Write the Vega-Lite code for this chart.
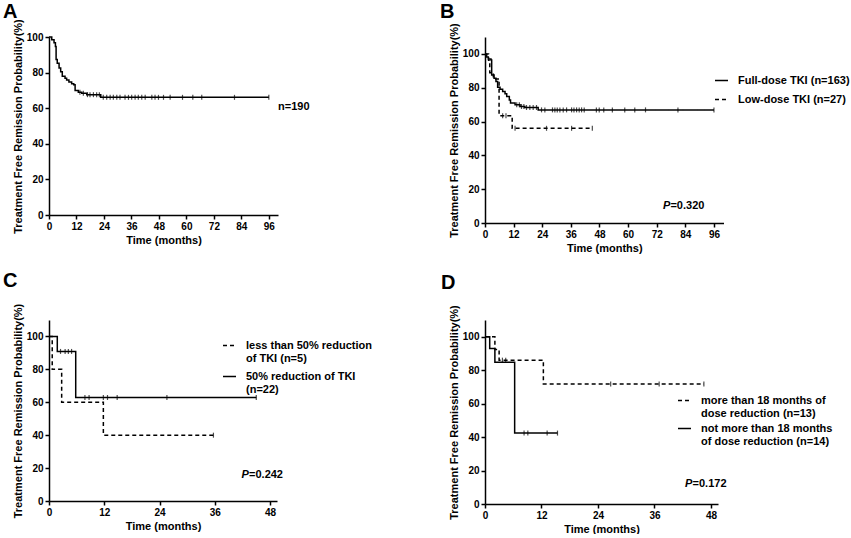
{
  "$schema": "https://vega.github.io/schema/vega-lite/v6.json",
  "padding": {"left": 3, "top": 1, "right": 0, "bottom": 0},
  "background": "white",
  "columns": 2,
  "bounds": "flush",
  "align": "each",
  "spacing": {"row": 97, "column": 207},
  "resolve": {"scale": {"strokeDash": "independent", "x": "independent", "y": "independent"}, "legend": {"strokeDash": "independent"}},
  "config": {
    "font": "Liberation Sans",
    "view": {"stroke": null},
    "axis": {
      "grid": false,
      "domainColor": "black",
      "domainWidth": 1.5,
      "tickColor": "black",
      "tickWidth": 1.5,
      "tickSize": 4,
      "labelColor": "black",
      "labelFont": "Liberation Sans",
      "labelFontSize": 10,
      "labelFontWeight": "bold",
      "labelPadding": 2,
      "labelFlush": false,
      "titleColor": "black",
      "titleFont": "Liberation Sans",
      "titleFontSize": 11,
      "titleFontWeight": "bold",
      "titlePadding": 3
    },
    "legend": {
      "labelFont": "Liberation Sans",
      "labelFontSize": 11,
      "labelFontWeight": "bold",
      "labelColor": "black",
      "labelLimit": 0,
      "labelOffset": 9,
      "symbolType": "stroke",
      "symbolStrokeColor": "black",
      "symbolStrokeWidth": 1.5,
      "symbolSize": 169,
      "padding": 0
    },
    "title": {"fontSize": 20, "fontWeight": "bold", "font": "Liberation Sans", "anchor": "start", "frame": "group", "color": "black"},
    "text": {"font": "Liberation Sans", "fontSize": 11, "fontWeight": "bold", "color": "black", "align": "left", "baseline": "middle"}
  },
  "datasets": {
    "a_curve": [
      {"t": 0, "s": 100}, {"t": 1.2, "s": 98.4}, {"t": 2.2, "s": 96.8}, {"t": 2.8, "s": 94.7},
      {"t": 3.1, "s": 87.4}, {"t": 3.6, "s": 85.3}, {"t": 4.4, "s": 82.6}, {"t": 5.1, "s": 80.5},
      {"t": 5.8, "s": 77.9}, {"t": 7.0, "s": 76.8}, {"t": 7.7, "s": 75.8}, {"t": 8.7, "s": 74.7},
      {"t": 9.9, "s": 73.7}, {"t": 10.8, "s": 73.2}, {"t": 11.4, "s": 70.0}, {"t": 12.8, "s": 69.0},
      {"t": 14.3, "s": 68.4}, {"t": 16.5, "s": 67.6}, {"t": 22.6, "s": 66.1}, {"t": 96, "s": 66.1}
    ],
    "a_cens": [
      {"t": 13.5, "s": 69.0}, {"t": 15.0, "s": 68.4}, {"t": 16.8, "s": 67.6}, {"t": 17.9, "s": 67.6},
      {"t": 19.4, "s": 67.6}, {"t": 20.8, "s": 67.6}, {"t": 22.0, "s": 67.6},
      {"t": 23.7, "s": 66.1}, {"t": 25.2, "s": 66.1}, {"t": 26.7, "s": 66.1}, {"t": 28.1, "s": 66.1},
      {"t": 29.6, "s": 66.1}, {"t": 31.0, "s": 66.1}, {"t": 33.2, "s": 66.1}, {"t": 34.7, "s": 66.1},
      {"t": 36.1, "s": 66.1}, {"t": 37.6, "s": 66.1}, {"t": 39.0, "s": 66.1}, {"t": 40.5, "s": 66.1},
      {"t": 42.0, "s": 66.1}, {"t": 44.9, "s": 66.1}, {"t": 46.3, "s": 66.1}, {"t": 47.8, "s": 66.1},
      {"t": 50.0, "s": 66.1}, {"t": 52.9, "s": 66.1}, {"t": 58.3, "s": 66.1}, {"t": 62.8, "s": 66.1},
      {"t": 66.7, "s": 66.1}, {"t": 81.0, "s": 66.1}, {"t": 96.0, "s": 66.1}
    ],
    "a_text": [{"t": 100, "s": 60.8, "label": "n=190"}],
    "b_curve": [
      {"g": "Full-dose TKI (n=163)", "t": 0, "s": 100}, {"g": "Full-dose TKI (n=163)", "t": 0.7, "s": 98.2},
      {"g": "Full-dose TKI (n=163)", "t": 1.4, "s": 97.0}, {"g": "Full-dose TKI (n=163)", "t": 2.5, "s": 96.4},
      {"g": "Full-dose TKI (n=163)", "t": 2.8, "s": 87.6}, {"g": "Full-dose TKI (n=163)", "t": 3.8, "s": 85.6},
      {"g": "Full-dose TKI (n=163)", "t": 4.6, "s": 83.7}, {"g": "Full-dose TKI (n=163)", "t": 5.3, "s": 80.3},
      {"g": "Full-dose TKI (n=163)", "t": 6.3, "s": 79.1}, {"g": "Full-dose TKI (n=163)", "t": 7.4, "s": 77.8},
      {"g": "Full-dose TKI (n=163)", "t": 8.4, "s": 76.4}, {"g": "Full-dose TKI (n=163)", "t": 9.1, "s": 74.8},
      {"g": "Full-dose TKI (n=163)", "t": 10.2, "s": 72.8}, {"g": "Full-dose TKI (n=163)", "t": 10.7, "s": 70.9},
      {"g": "Full-dose TKI (n=163)", "t": 12.6, "s": 69.9}, {"g": "Full-dose TKI (n=163)", "t": 14.7, "s": 68.9},
      {"g": "Full-dose TKI (n=163)", "t": 16.7, "s": 68.3}, {"g": "Full-dose TKI (n=163)", "t": 22.3, "s": 66.9},
      {"g": "Full-dose TKI (n=163)", "t": 96, "s": 66.9},
      {"g": "Low-dose TKI (n=27)", "t": 0, "s": 100}, {"g": "Low-dose TKI (n=27)", "t": 1.5, "s": 96.3},
      {"g": "Low-dose TKI (n=27)", "t": 2.0, "s": 88.9}, {"g": "Low-dose TKI (n=27)", "t": 3.5, "s": 85.2},
      {"g": "Low-dose TKI (n=27)", "t": 5.9, "s": 63.5}, {"g": "Low-dose TKI (n=27)", "t": 11.4, "s": 56.0},
      {"g": "Low-dose TKI (n=27)", "t": 45, "s": 56.0}
    ],
    "b_cens": [
      {"t": 13.3, "s": 69.9}, {"t": 14.4, "s": 69.9}, {"t": 15.3, "s": 68.9}, {"t": 16.3, "s": 68.9},
      {"t": 17.4, "s": 68.3}, {"t": 18.8, "s": 68.3}, {"t": 20.2, "s": 68.3}, {"t": 21.6, "s": 68.3},
      {"t": 23.7, "s": 66.9}, {"t": 25.1, "s": 66.9}, {"t": 28.3, "s": 66.9}, {"t": 29.3, "s": 66.9},
      {"t": 30.3, "s": 66.9}, {"t": 31.4, "s": 66.9}, {"t": 32.8, "s": 66.9}, {"t": 34.2, "s": 66.9},
      {"t": 36.3, "s": 66.9}, {"t": 37.3, "s": 66.9}, {"t": 38.4, "s": 66.9}, {"t": 39.5, "s": 66.9},
      {"t": 40.5, "s": 66.9}, {"t": 41.6, "s": 66.9}, {"t": 46.7, "s": 66.9}, {"t": 47.9, "s": 66.9},
      {"t": 49.8, "s": 66.9}, {"t": 53.4, "s": 66.9}, {"t": 58.6, "s": 66.9}, {"t": 62.8, "s": 66.9},
      {"t": 67.3, "s": 66.9}, {"t": 80.9, "s": 66.9}, {"t": 96, "s": 66.9},
      {"t": 7.4, "s": 63.5}, {"t": 8.8, "s": 63.5}, {"t": 12.6, "s": 56.0}, {"t": 25.8, "s": 56.0},
      {"t": 36.3, "s": 56.0}, {"t": 45, "s": 56.0}
    ],
    "b_text": [{"t": 74.6, "s": 10.1, "p": "P", "rest": "=0.320"}],
    "c_curve": [
      {"g": "less than 50% reduction of TKI (n=5)", "t": 0, "s": 100},
      {"g": "less than 50% reduction of TKI (n=5)", "t": 0.7, "s": 80},
      {"g": "less than 50% reduction of TKI (n=5)", "t": 2.75, "s": 60},
      {"g": "less than 50% reduction of TKI (n=5)", "t": 11.8, "s": 40},
      {"g": "less than 50% reduction of TKI (n=5)", "t": 35.7, "s": 40},
      {"g": "50% reduction of TKI (n=22)", "t": 0, "s": 100},
      {"g": "50% reduction of TKI (n=22)", "t": 1.8, "s": 90.9},
      {"g": "50% reduction of TKI (n=22)", "t": 5.8, "s": 62.9},
      {"g": "50% reduction of TKI (n=22)", "t": 45, "s": 62.9}
    ],
    "c_cens": [
      {"t": 35.7, "s": 40},
      {"t": 2.5, "s": 90.9}, {"t": 3.5, "s": 90.9}, {"t": 4.2, "s": 90.9}, {"t": 4.9, "s": 90.9},
      {"t": 7.8, "s": 62.9}, {"t": 8.7, "s": 62.9}, {"t": 11.8, "s": 62.9}, {"t": 12.7, "s": 62.9},
      {"t": 14.8, "s": 62.9}, {"t": 25.6, "s": 62.9}, {"t": 45, "s": 62.9}
    ],
    "c_text": [{"t": 41.8, "s": 15.6, "p": "P", "rest": "=0.242"}],
    "d_curve": [
      {"g": "more than 18 months of dose reduction (n=13)", "t": 0, "s": 100},
      {"g": "more than 18 months of dose reduction (n=13)", "t": 2.1, "s": 92.3},
      {"g": "more than 18 months of dose reduction (n=13)", "t": 3.0, "s": 86.0},
      {"g": "more than 18 months of dose reduction (n=13)", "t": 12.4, "s": 71.7},
      {"g": "more than 18 months of dose reduction (n=13)", "t": 46.5, "s": 71.7},
      {"g": "not more than 18 months of dose reduction (n=14)", "t": 0, "s": 100},
      {"g": "not more than 18 months of dose reduction (n=14)", "t": 1.0, "s": 92.9},
      {"g": "not more than 18 months of dose reduction (n=14)", "t": 2.1, "s": 84.8},
      {"g": "not more than 18 months of dose reduction (n=14)", "t": 6.3, "s": 42.4},
      {"g": "not more than 18 months of dose reduction (n=14)", "t": 15.4, "s": 42.4}
    ],
    "d_cens": [
      {"t": 3.7, "s": 86.0}, {"t": 4.4, "s": 86.0}, {"t": 26.7, "s": 71.7}, {"t": 37.0, "s": 71.7}, {"t": 46.5, "s": 71.7},
      {"t": 8.3, "s": 42.4}, {"t": 9.1, "s": 42.4}, {"t": 13.2, "s": 42.4}, {"t": 15.4, "s": 42.4}
    ],
    "d_text": [{"t": 42.5, "s": 12.1, "p": "P", "rest": "=0.172"}]
  },
  "concat": [
    {
      "width": 229,
      "height": 178,
      "title": {"text": "A", "dx": -46, "offset": -3},
      "encoding": {
        "x": {"field": "t", "type": "quantitative", "scale": {"domain": [0, 100], "nice": false}, "axis": {"values": [0, 12, 24, 36, 48, 60, 72, 84, 96], "title": "Time (months)"}},
        "y": {"field": "s", "type": "quantitative", "scale": {"domain": [0, 100], "nice": false}, "axis": {"values": [0, 20, 40, 60, 80, 100], "title": "Treatment Free Remission Probability(%)"}}
      },
      "layer": [
        {"data": {"name": "a_curve"}, "mark": {"type": "line", "interpolate": "step-after", "color": "black", "strokeWidth": 1.5}},
        {"data": {"name": "a_cens"}, "mark": {"type": "tick", "orient": "vertical", "color": "black", "size": 5, "thickness": 1.2}},
        {"data": {"name": "a_text"}, "mark": {"type": "text", "clip": false}, "encoding": {"text": {"field": "label"}}}
      ]
    },
    {
      "width": 238.5,
      "height": 186,
      "title": {"text": "B", "dx": -45, "offset": 1},
      "encoding": {
        "x": {"field": "t", "type": "quantitative", "scale": {"domain": [0, 100], "nice": false}, "axis": {"values": [0, 12, 24, 36, 48, 60, 72, 84, 96], "title": "Time (months)"}},
        "y": {"field": "s", "type": "quantitative", "scale": {"domain": [0, 110], "nice": false}, "axis": {"values": [0, 20, 40, 60, 80, 100], "title": "Treatment Free Remission Probability(%)"}}
      },
      "layer": [
        {"data": {"name": "b_curve"}, "mark": {"type": "line", "interpolate": "step-after", "color": "black", "strokeWidth": 1.5},
         "encoding": {"strokeDash": {"field": "g", "type": "nominal",
           "scale": {"domain": ["Full-dose TKI (n=163)", "Low-dose TKI (n=27)"], "range": [[1, 0], [4, 3]]},
           "legend": {"title": null, "orient": "none", "legendX": 229, "legendY": 36, "rowPadding": 6}}}},
        {"data": {"name": "b_cens"}, "mark": {"type": "tick", "orient": "vertical", "color": "black", "size": 5, "thickness": 1.2}},
        {"data": {"name": "b_text"}, "mark": {"type": "text", "fontStyle": "italic"}, "encoding": {"text": {"field": "p"}}},
        {"data": {"name": "b_text"}, "mark": {"type": "text", "dx": 7.5}, "encoding": {"text": {"field": "rest"}}}
      ]
    },
    {
      "width": 228,
      "height": 181,
      "title": {"text": "C", "dx": -46, "offset": 12},
      "encoding": {
        "x": {"field": "t", "type": "quantitative", "scale": {"domain": [0, 49.5], "nice": false}, "axis": {"values": [0, 12, 24, 36, 48], "title": "Time (months)"}},
        "y": {"field": "s", "type": "quantitative", "scale": {"domain": [0, 110], "nice": false}, "axis": {"values": [0, 20, 40, 60, 80, 100], "title": "Treatment Free Remission Probability(%)"}}
      },
      "layer": [
        {"data": {"name": "c_curve"}, "mark": {"type": "line", "interpolate": "step-after", "color": "black", "strokeWidth": 1.5},
         "encoding": {"strokeDash": {"field": "g", "type": "nominal",
           "scale": {"domain": ["less than 50% reduction of TKI (n=5)", "50% reduction of TKI (n=22)"], "range": [[4, 3], [1, 0]]},
           "legend": {"title": null, "orient": "none", "legendX": 173, "legendY": 18, "rowPadding": 5,
             "labelExpr": "datum.label === 'less than 50% reduction of TKI (n=5)' ? ['less than 50% reduction', 'of TKI (n=5)'] : ['50% reduction of TKI', '(n=22)']"}}}},
        {"data": {"name": "c_cens"}, "mark": {"type": "tick", "orient": "vertical", "color": "black", "size": 5, "thickness": 1.2}},
        {"data": {"name": "c_text"}, "mark": {"type": "text", "fontStyle": "italic"}, "encoding": {"text": {"field": "p"}}},
        {"data": {"name": "c_text"}, "mark": {"type": "text", "dx": 7.5}, "encoding": {"text": {"field": "rest"}}}
      ]
    },
    {
      "width": 233,
      "height": 184,
      "title": {"text": "D", "dx": -44, "offset": 12},
      "encoding": {
        "x": {"field": "t", "type": "quantitative", "scale": {"domain": [0, 49.5], "nice": false}, "axis": {"values": [0, 12, 24, 36, 48], "title": "Time (months)"}},
        "y": {"field": "s", "type": "quantitative", "scale": {"domain": [0, 110], "nice": false}, "axis": {"values": [0, 20, 40, 60, 80, 100], "title": "Treatment Free Remission Probability(%)"}}
      },
      "layer": [
        {"data": {"name": "d_curve"}, "mark": {"type": "line", "interpolate": "step-after", "color": "black", "strokeWidth": 1.5},
         "encoding": {"strokeDash": {"field": "g", "type": "nominal",
           "scale": {"domain": ["more than 18 months of dose reduction (n=13)", "not more than 18 months of dose reduction (n=14)"], "range": [[4, 3], [1, 0]]},
           "legend": {"title": null, "orient": "none", "legendX": 192, "legendY": 73, "rowPadding": 2,
             "labelExpr": "datum.label === 'more than 18 months of dose reduction (n=13)' ? ['more than 18 months of', 'dose reduction (n=13)'] : ['not more than 18 months', 'of dose reduction (n=14)']"}}}},
        {"data": {"name": "d_cens"}, "mark": {"type": "tick", "orient": "vertical", "color": "black", "size": 5, "thickness": 1.2}},
        {"data": {"name": "d_text"}, "mark": {"type": "text", "fontStyle": "italic"}, "encoding": {"text": {"field": "p"}}},
        {"data": {"name": "d_text"}, "mark": {"type": "text", "dx": 7.5}, "encoding": {"text": {"field": "rest"}}}
      ]
    }
  ]
}
